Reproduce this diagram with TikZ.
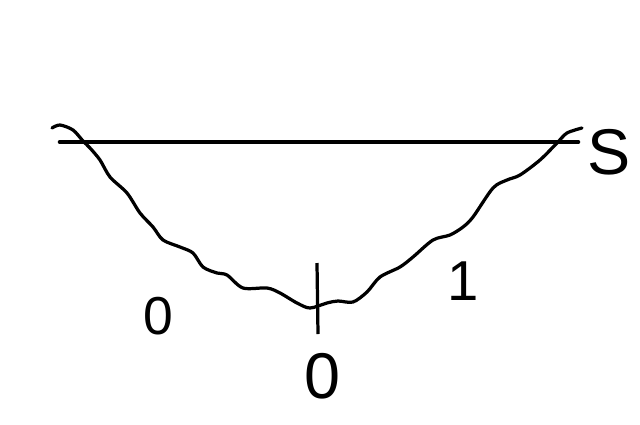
\documentclass[tikz,border=0pt]{standalone}
\usepackage{fontspec}
\setmainfont{Liberation Sans}
\usetikzlibrary{positioning}

\begin{document}
\begin{tikzpicture}[
  x=0.025cm, y=-0.025cm,
  level/.style = {line width=3.3pt, line cap=round},
  bed/.style   = {line width=2.3pt, line cap=round, line join=round},
  tick/.style  = {line width=2.3pt},
  lbl/.style   = {inner sep=0pt, text=black}
]
  \useasboundingbox (0,0) rectangle (640,424);

  \coordinate (Lw) at (60,142);
  \coordinate (Rw) at (578,142);
  \draw[level] (Lw) -- (Rw);

  \draw[bed] plot[smooth, tension=0.5] coordinates {
    (52,128) (60,125) (73,130) (83,141) (90,148) (100,160) (110,177)
    (127,193) (140,213) (153,227) (163,240) (180,247) (193,253) (203,267)
    (217,273) (227,275) (243,288) (267,288) (280,293) (297,303) (310,308)
    (327,303) (338,301) (353,302) (367,292) (380,277) (400,267) (413,257)
    (433,240) (450,235) (463,227) (473,217) (493,188) (507,180) (520,175)
    (540,160) (557,143) (567,133) (582,128)};

  \coordinate (Tt) at (317,263);
  \coordinate (Tb) at (318,334);
  \draw[tick] (Tt) -- (Tb);

  \node[lbl, font=\fontsize{38}{38}\selectfont] (zL) at (158,316) {0};
  \node[lbl, font=\fontsize{46}{46}\selectfont] (zB) at (322,376) {0};
  \node[lbl, font=\fontsize{40}{40}\selectfont] (one) at (463,281) {1};
  \node[lbl, font=\fontsize{46}{46}\selectfont] (S) at (609,152) {S};
\end{tikzpicture}
\end{document}
